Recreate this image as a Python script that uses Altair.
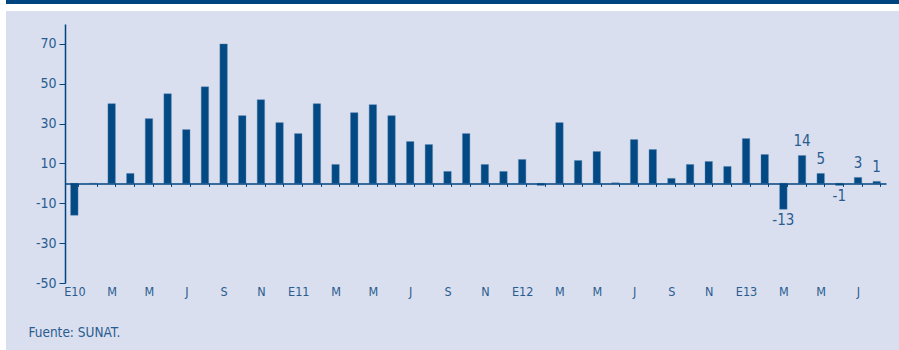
import altair as alt
import pandas as pd

# ---- data -------------------------------------------------------------
months = [
    "2010-01", "2010-02", "2010-03", "2010-04", "2010-05", "2010-06",
    "2010-07", "2010-08", "2010-09", "2010-10", "2010-11", "2010-12",
    "2011-01", "2011-02", "2011-03", "2011-04", "2011-05", "2011-06",
    "2011-07", "2011-08", "2011-09", "2011-10", "2011-11", "2011-12",
    "2012-01", "2012-02", "2012-03", "2012-04", "2012-05", "2012-06",
    "2012-07", "2012-08", "2012-09", "2012-10", "2012-11", "2012-12",
    "2013-01", "2013-02", "2013-03", "2013-04", "2013-05", "2013-06",
    "2013-07", "2013-08",
]
values = [
    -16, 0, 40, 5, 32.5, 45, 27, 48.5, 70, 34, 42, 30.5,
    25, 40, 9.5, 35.5, 39.5, 34, 21, 19.5, 6, 25, 9.5, 6,
    12, -1, 30.5, 11.5, 16, 0.3, 22, 17, 2.5, 9.5, 11, 8.5,
    22.5, 14.5, -13, 14, 5, -1, 3, 1,
]
tick_labels = [
    "E10", "", "M", "", "M", "", "J", "", "S", "", "N", "",
    "E11", "", "M", "", "M", "", "J", "", "S", "", "N", "",
    "E12", "", "M", "", "M", "", "J", "", "S", "", "N", "",
    "E13", "", "M", "", "M", "", "J", "",
]
annot_months = ["2013-03", "2013-04", "2013-05", "2013-06", "2013-07", "2013-08"]
annot_values = [-13, 14, 5, -1, 3, 1]
annot_text = ["-13", "14", "5", "-1", "3", "1"]
y_ticks = [-50, -30, -10, 10, 30, 50, 70]
source_note = "Fuente: SUNAT."

# ---- styling ------------------------------------------------------------
NAVY = "#00457f"
BAR = "#034a85"
TXT = "#2a5c91"
PANEL = "#d9dfee"
FONT = "Liberation Sans Narrow, DejaVu Sans Condensed, sans-serif"

W, H = 821, 259
Y_MIN, Y_MAX = -50, 80
zero_from_bottom = (0 - Y_MIN) / (Y_MAX - Y_MIN) * H

df = pd.DataFrame({"mes": months, "valor": values})
ann = pd.DataFrame({"mes": annot_months, "valor": annot_values, "txt": annot_text})

label_map = "{" + ",".join(f"'{k}':'{v}'" for k, v in zip(months, tick_labels)) + "}"

x_scale = alt.Scale(domain=months, paddingInner=0.6, paddingOuter=0.3)
y_scale = alt.Scale(domain=[Y_MIN, Y_MAX], nice=False, zero=False)

# background decorations
one = alt.Data(values=[{}])
panel = alt.Chart(one).mark_rect(color=PANEL).encode(
    x=alt.value(-59), x2=alt.value(834), y=alt.value(-13), y2=alt.value(326)
)
band = alt.Chart(one).mark_rect(color=NAVY).encode(
    x=alt.value(-59), x2=alt.value(834), y=alt.value(-24), y2=alt.value(-20)
)

bars = alt.Chart(df).mark_bar(color=BAR, stroke="#5a83b0", strokeWidth=0.4).encode(
    x=alt.X(
        "mes:N",
        scale=x_scale,
        sort=months,
        title=None,
        axis=alt.Axis(
            offset=-zero_from_bottom,
            tickBand="extent",
            tickSize=3,
            tickColor=NAVY,
            domainColor=NAVY,
            domainWidth=1.5,
            labelPadding=99.5,
            labelAngle=0,
            labelExpr=f"{label_map}[datum.value]",
            labelColor=TXT,
            labelFont=FONT,
            labelFontSize=12.5,
            labelBaseline="top",
            grid=False,
            zindex=1,
        ),
    ),
    y=alt.Y(
        "valor:Q",
        scale=y_scale,
        title=None,
        axis=alt.Axis(
            values=y_ticks,
            tickSize=6,
            tickColor=NAVY,
            domainColor=NAVY,
            domainWidth=1.5,
            labelPadding=3,
            labelColor=TXT,
            labelFont=FONT,
            labelFontSize=14,
            labelExpr="'' + datum.value",
            grid=False,
            zindex=1,
        ),
    ),
)

pos_text = alt.Chart(ann).transform_filter("datum.valor >= 0").mark_text(
    color=TXT, font=FONT, fontSize=15, baseline="alphabetic", dy=-9
).encode(x=alt.X("mes:N", scale=x_scale, sort=months), y="valor:Q", text="txt:N")

neg_text = alt.Chart(ann).transform_filter("datum.valor < 0").mark_text(
    color=TXT, font=FONT, fontSize=15, baseline="top", dy=4
).encode(x=alt.X("mes:N", scale=x_scale, sort=months), y="valor:Q", text="txt:N")

note = alt.Chart(one).mark_text(
    text=source_note, color=TXT, font=FONT, fontSize=13.5, align="left", baseline="alphabetic"
).encode(x=alt.value(-36.5), y=alt.value(313))

chart = (
    alt.layer(panel, band, bars, pos_text, neg_text, note)
    .properties(
        width=W,
        height=H,
        autosize=alt.AutoSizeParams(type="none"),
        padding={"left": 65, "top": 24, "right": 13, "bottom": 67},
        background="white",
    )
    .configure_view(stroke=None)
)

chart.save("out.html", embed_options={"renderer": "svg", "actions": False})
